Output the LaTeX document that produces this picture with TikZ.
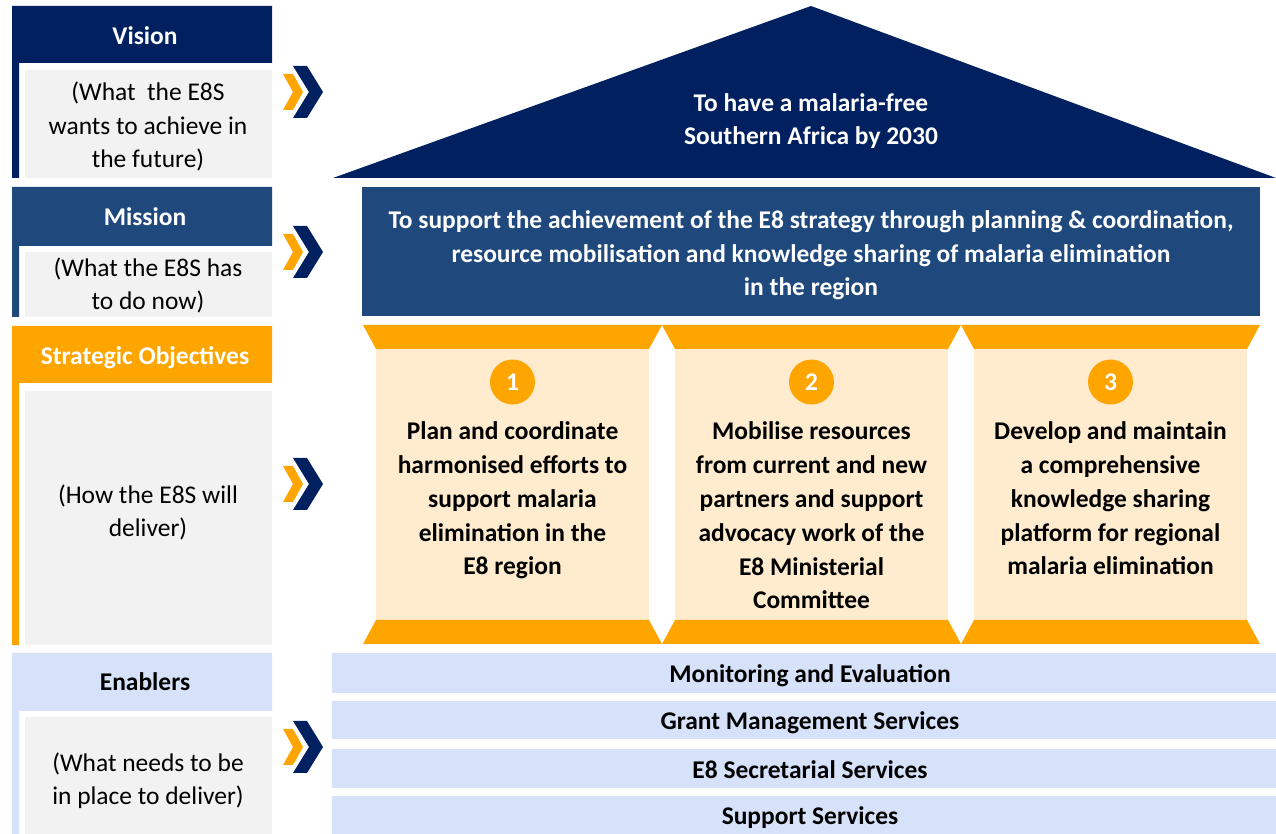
\documentclass[tikz,border=0pt]{standalone}
\usepackage{fontspec}
\setmainfont{Carlito}
\usetikzlibrary{positioning}
\definecolor{navy}{HTML}{002060}
\definecolor{mission}{HTML}{1F497D}
\definecolor{gold}{HTML}{FFA500}
\definecolor{beige}{HTML}{FFEBCD}
\definecolor{paleblue}{HTML}{D6E2FA}
\definecolor{lightgray}{HTML}{F2F2F2}

\begin{document}
\begin{tikzpicture}[x=0.02cm,y=-0.02cm,
    every node/.style={font=\fontsize{14.5}{19.3}\selectfont, align=center, inner sep=0pt, anchor=base},
    head/.style={font=\fontsize{14.5}{19.3}\selectfont\bfseries},
    note/.style={text=black},
    numdot/.style={circle, fill=gold, minimum size=0.9cm, anchor=center, text=white, font=\fontsize{14.5}{19.3}\selectfont\bfseries}]
    \tikzset{chevrons/.pic={
        \fill[gold] (283,-18) -- (293,-18) -- (303,0) -- (293,18) -- (283,18) -- (293,0) -- cycle;
        \fill[navy] (293,-26) -- (307,-26) -- (323,0) -- (307,26) -- (293,26) -- (309,0) -- cycle;}}
    \useasboundingbox (0,0) rectangle (1276,834);

    % left column (nodes sit on the baseline of their last line)
    \fill[navy] (12,6) rectangle (272,63) (12,63) rectangle (19,178);
    \fill[lightgray] (25,70) rectangle (272,178);
    \fill[mission] (12,187) rectangle (272,246) (12,246) rectangle (19,317);
    \fill[lightgray] (25,252) rectangle (272,317);
    \fill[gold] (12,326) rectangle (272,383) (12,383) rectangle (19,645);
    \fill[lightgray] (25,391) rectangle (272,645);
    \fill[paleblue] (12,653) rectangle (272,711) (12,711) rectangle (19,834);
    \fill[lightgray] (25,717) rectangle (272,834);

    \node[head, text=white] (vision) at (145,45) {Vision};
    \node[note] (visionq) at (148,168) {(What\ \ the E8S\\wants to achieve in\\the future)};
    \node[head, text=white] (mission) at (145,226) {Mission};
    \node[note] (missionq) at (148,310) {(What the E8S has\\to do now)};
    \node[head, text=white] (objectives) at (145,365) {Strategic Objectives};
    \node[note] (objectivesq) at (148,537) {(How the E8S will\\deliver)};
    \node[head] (enablers) at (145,691) {Enablers};
    \node[note] (enablersq) at (148,805) {(What needs to be\\in place to deliver)};

    \foreach \y in {92,252,484,747} \pic at (0,\y) {chevrons};

    % roof and mission
    \fill[navy] (333,178) -- (811,6) -- (1276,178) -- cycle;
    \node[head, text=white] (roof) at (811,145) {To have a malaria-free\\Southern Africa by 2030};
    \fill[mission] (362,187) rectangle (1260,316);
    \node[head, text=white] (missiontext) at (811,296) {To support the achievement of the E8 strategy through planning \& coordination,\\resource mobilisation and knowledge sharing of malaria elimination\\in the region};

    % pillars
    \foreach \cx/\n/\ty/\txt in {
        512.5/1/575/{Plan and coordinate\\harmonised efforts to\\support malaria\\elimination in the\\E8 region},
        811.5/2/609/{Mobilise resources\\from current and new\\partners and support\\advocacy work of the\\E8 Ministerial\\Committee},
        1110.5/3/575/{Develop and maintain\\a comprehensive\\knowledge sharing\\platform for regional\\malaria elimination}}{
        \fill[beige] (\cx-136.5,349) rectangle (\cx+136.5,620);
        \fill[gold] (\cx-149.5,325) -- (\cx+149.5,325) -- (\cx+136.5,349) -- (\cx-136.5,349) -- cycle;
        \fill[gold] (\cx-136.5,620) -- (\cx+136.5,620) -- (\cx+149.5,644) -- (\cx-149.5,644) -- cycle;
        \node[numdot] (num\n) at (\cx,382) {\n};
        \node[head] (pillar\n) at (\cx,\ty) {\txt};
    }

    % enablers
    \foreach \i/\ya/\yb/\txt in {1/653/693/Monitoring and Evaluation,
        2/701/739/Grant Management Services,
        3/749/788/E8 Secretarial Services,
        4/796/834/Support Services}{
        \fill[paleblue] (332,\ya) rectangle (1276,\yb);
        \node[head] (enabler\i) at (810,{(\ya+\yb)/2+10}) {\txt};
    }
\end{tikzpicture}
\end{document}
